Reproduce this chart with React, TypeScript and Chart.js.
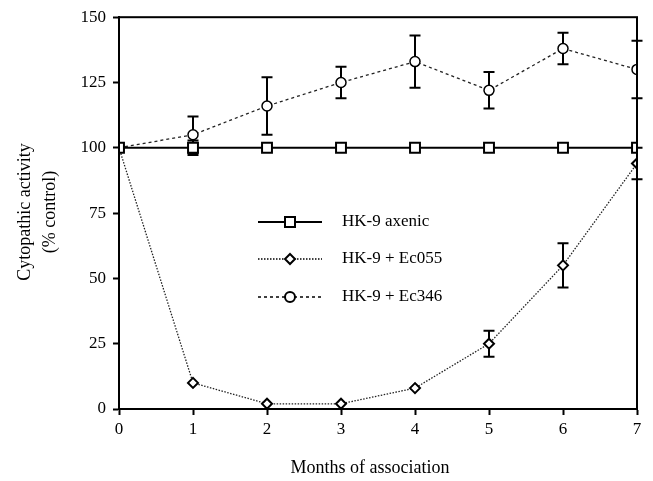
import React, { useEffect, useRef } from "react";
import { Chart, registerables } from "chart.js";

Chart.register(...registerables);

const months = [0, 1, 2, 3, 4, 5, 6, 7];
const axenic = [100, 100, 100, 100, 100, 100, 100, 100];
const axenicErr = [0, 2.8, 0, 0, 0, 0, 0, 0];
const ec055 = [100, 10, 2, 2, 8, 25, 55, 94];
const ec055Err = [0, 0, 0, 0, 0, 5, 8.5, 6];
const ec346 = [100, 105, 116, 125, 133, 122, 138, 130];
const ec346Err = [0, 7, 11, 6, 10, 7, 6, 11];
const legendLabels = ["HK-9 axenic", "HK-9 + Ec055", "HK-9 + Ec346"];
const xTitle = "Months of association";
const yTitle = ["Cytopathic activity", "(% control)"];

const FONT = '"Liberation Serif", "DejaVu Serif", serif';

export default function App() {
  const ref = useRef<HTMLCanvasElement>(null);
  useEffect(() => {
    const canvas = ref.current!;
    const errs = [axenicErr, ec055Err, ec346Err];

    const errorBars = {
      id: "errorBars",
      beforeDatasetsDraw(chart: any) {
        const ctx = chart.ctx;
        const y = chart.scales.y;
        ctx.save();
        ctx.strokeStyle = "#000";
        ctx.lineWidth = 2;
        chart.data.datasets.forEach((ds: any, i: number) => {
          const meta = chart.getDatasetMeta(i);
          meta.data.forEach((pt: any, j: number) => {
            const e = errs[i][j];
            if (!e) return;
            const v = ds.data[j].y;
            const yt = y.getPixelForValue(v + e);
            const yb = y.getPixelForValue(v - e);
            const x = pt.x;
            ctx.beginPath();
            ctx.moveTo(x, yt);
            ctx.lineTo(x, yb);
            ctx.moveTo(x - 5.5, yt);
            ctx.lineTo(x + 5.5, yt);
            ctx.moveTo(x - 5.5, yb);
            ctx.lineTo(x + 5.5, yb);
            ctx.stroke();
          });
        });
        ctx.restore();
      },
    };

    const extras = {
      id: "extras",
      afterDraw(chart: any) {
        const ctx = chart.ctx;
        const a = chart.chartArea;
        ctx.save();
        ctx.strokeStyle = "#000";
        ctx.lineWidth = 2;
        ctx.strokeRect(a.left, a.top, a.right - a.left, a.bottom - a.top);
        // titles
        ctx.fillStyle = "#000";
        ctx.font = "18px " + FONT;
        ctx.textAlign = "center";
        ctx.textBaseline = "middle";
        ctx.fillText(xTitle, 370, 468);
        ctx.save();
        ctx.translate(25, 212);
        ctx.rotate(-Math.PI / 2);
        ctx.fillText(yTitle[0], 0, 0);
        ctx.restore();
        ctx.save();
        ctx.translate(50, 212);
        ctx.rotate(-Math.PI / 2);
        ctx.fillText(yTitle[1], 0, 0);
        ctx.restore();
        // legend
        const rows = [222, 259, 297];
        const styles = [
          { dash: [], w: 2, pt: "rect" },
          { dash: [1.5, 1.5], w: 1.3, pt: "rectRot" },
          { dash: [3, 3], w: 1.3, pt: "circle" },
        ];
        rows.forEach((ry, i) => {
          ctx.save();
          ctx.strokeStyle = "#000";
          ctx.lineWidth = styles[i].w;
          ctx.setLineDash(styles[i].dash);
          ctx.beginPath();
          ctx.moveTo(258, ry);
          ctx.lineTo(322, ry);
          ctx.stroke();
          ctx.restore();
          ctx.save();
          ctx.strokeStyle = "#000";
          ctx.fillStyle = "#fff";
          ctx.lineWidth = 2;
          ctx.setLineDash([]);
          ctx.beginPath();
          if (styles[i].pt === "rect") {
            ctx.rect(285, ry - 5, 10, 10);
          } else if (styles[i].pt === "rectRot") {
            ctx.moveTo(290, ry - 5);
            ctx.lineTo(295, ry);
            ctx.lineTo(290, ry + 5);
            ctx.lineTo(285, ry);
            ctx.closePath();
          } else {
            ctx.arc(290, ry, 5, 0, Math.PI * 2);
          }
          ctx.fill();
          ctx.stroke();
          ctx.restore();
          ctx.fillStyle = "#000";
          ctx.font = "17px " + FONT;
          ctx.textAlign = "left";
          ctx.textBaseline = "middle";
          ctx.fillText(legendLabels[i], 342, ry);
        });
        ctx.restore();
      },
    };

    const toXY = (arr: number[]) => arr.map((v, i) => ({ x: months[i], y: v }));

    const chart = new Chart(canvas, {
      type: "line",
      data: {
        datasets: [
          {
            label: legendLabels[0],
            data: toXY(axenic),
            borderColor: "#000",
            borderWidth: 2,
            pointStyle: "rect",
            pointRadius: 7,
            pointBackgroundColor: "#fff",
            pointBorderColor: "#000",
            pointBorderWidth: 2,
          },
          {
            label: legendLabels[1],
            data: toXY(ec055),
            borderColor: "#222",
            borderWidth: 1.3,
            borderDash: [1.5, 1.5],
            pointStyle: "rectRot",
            pointRadius: 5,
            pointBackgroundColor: "#fff",
            pointBorderColor: "#000",
            pointBorderWidth: 2,
          },
          {
            label: legendLabels[2],
            data: toXY(ec346),
            borderColor: "#222",
            borderWidth: 1.3,
            borderDash: [3, 3],
            pointStyle: "circle",
            pointRadius: 5,
            pointBackgroundColor: "#fff",
            pointBorderColor: "#000",
            pointBorderWidth: 1.5,
          },
        ],
      },
      options: {
        responsive: false,
        animation: false,
        layout: { padding: { top: 16, right: 16, left: 0, bottom: 0 } },
        plugins: { legend: { display: false }, tooltip: { enabled: false } },
        scales: {
          x: {
            type: "linear",
            min: 0,
            max: 7,
            ticks: { stepSize: 1, color: "#000", font: { family: FONT, size: 17 }, padding: 4 },
            grid: { drawOnChartArea: false, drawTicks: true, tickLength: 6, tickColor: "#000", tickWidth: 2 },
            border: { display: true, color: "#000", width: 2 },
            afterFit: (s: any) => {
              s.height = 72;
            },
          },
          y: {
            min: 0,
            max: 150,
            ticks: { stepSize: 25, color: "#000", font: { family: FONT, size: 17 }, padding: 7 },
            grid: { drawOnChartArea: false, drawTicks: true, tickLength: 6, tickColor: "#000", tickWidth: 2 },
            border: { display: true, color: "#000", width: 2 },
            afterFit: (s: any) => {
              s.width = 119;
            },
          },
        },
      },
      plugins: [errorBars, extras],
    });
    return () => chart.destroy();
  }, []);
  return (
    <canvas
      ref={ref}
      width={653}
      height={481}
      style={{ position: "absolute", left: 0, top: 0, display: "block", background: "#fff" }}
    />
  );
}
